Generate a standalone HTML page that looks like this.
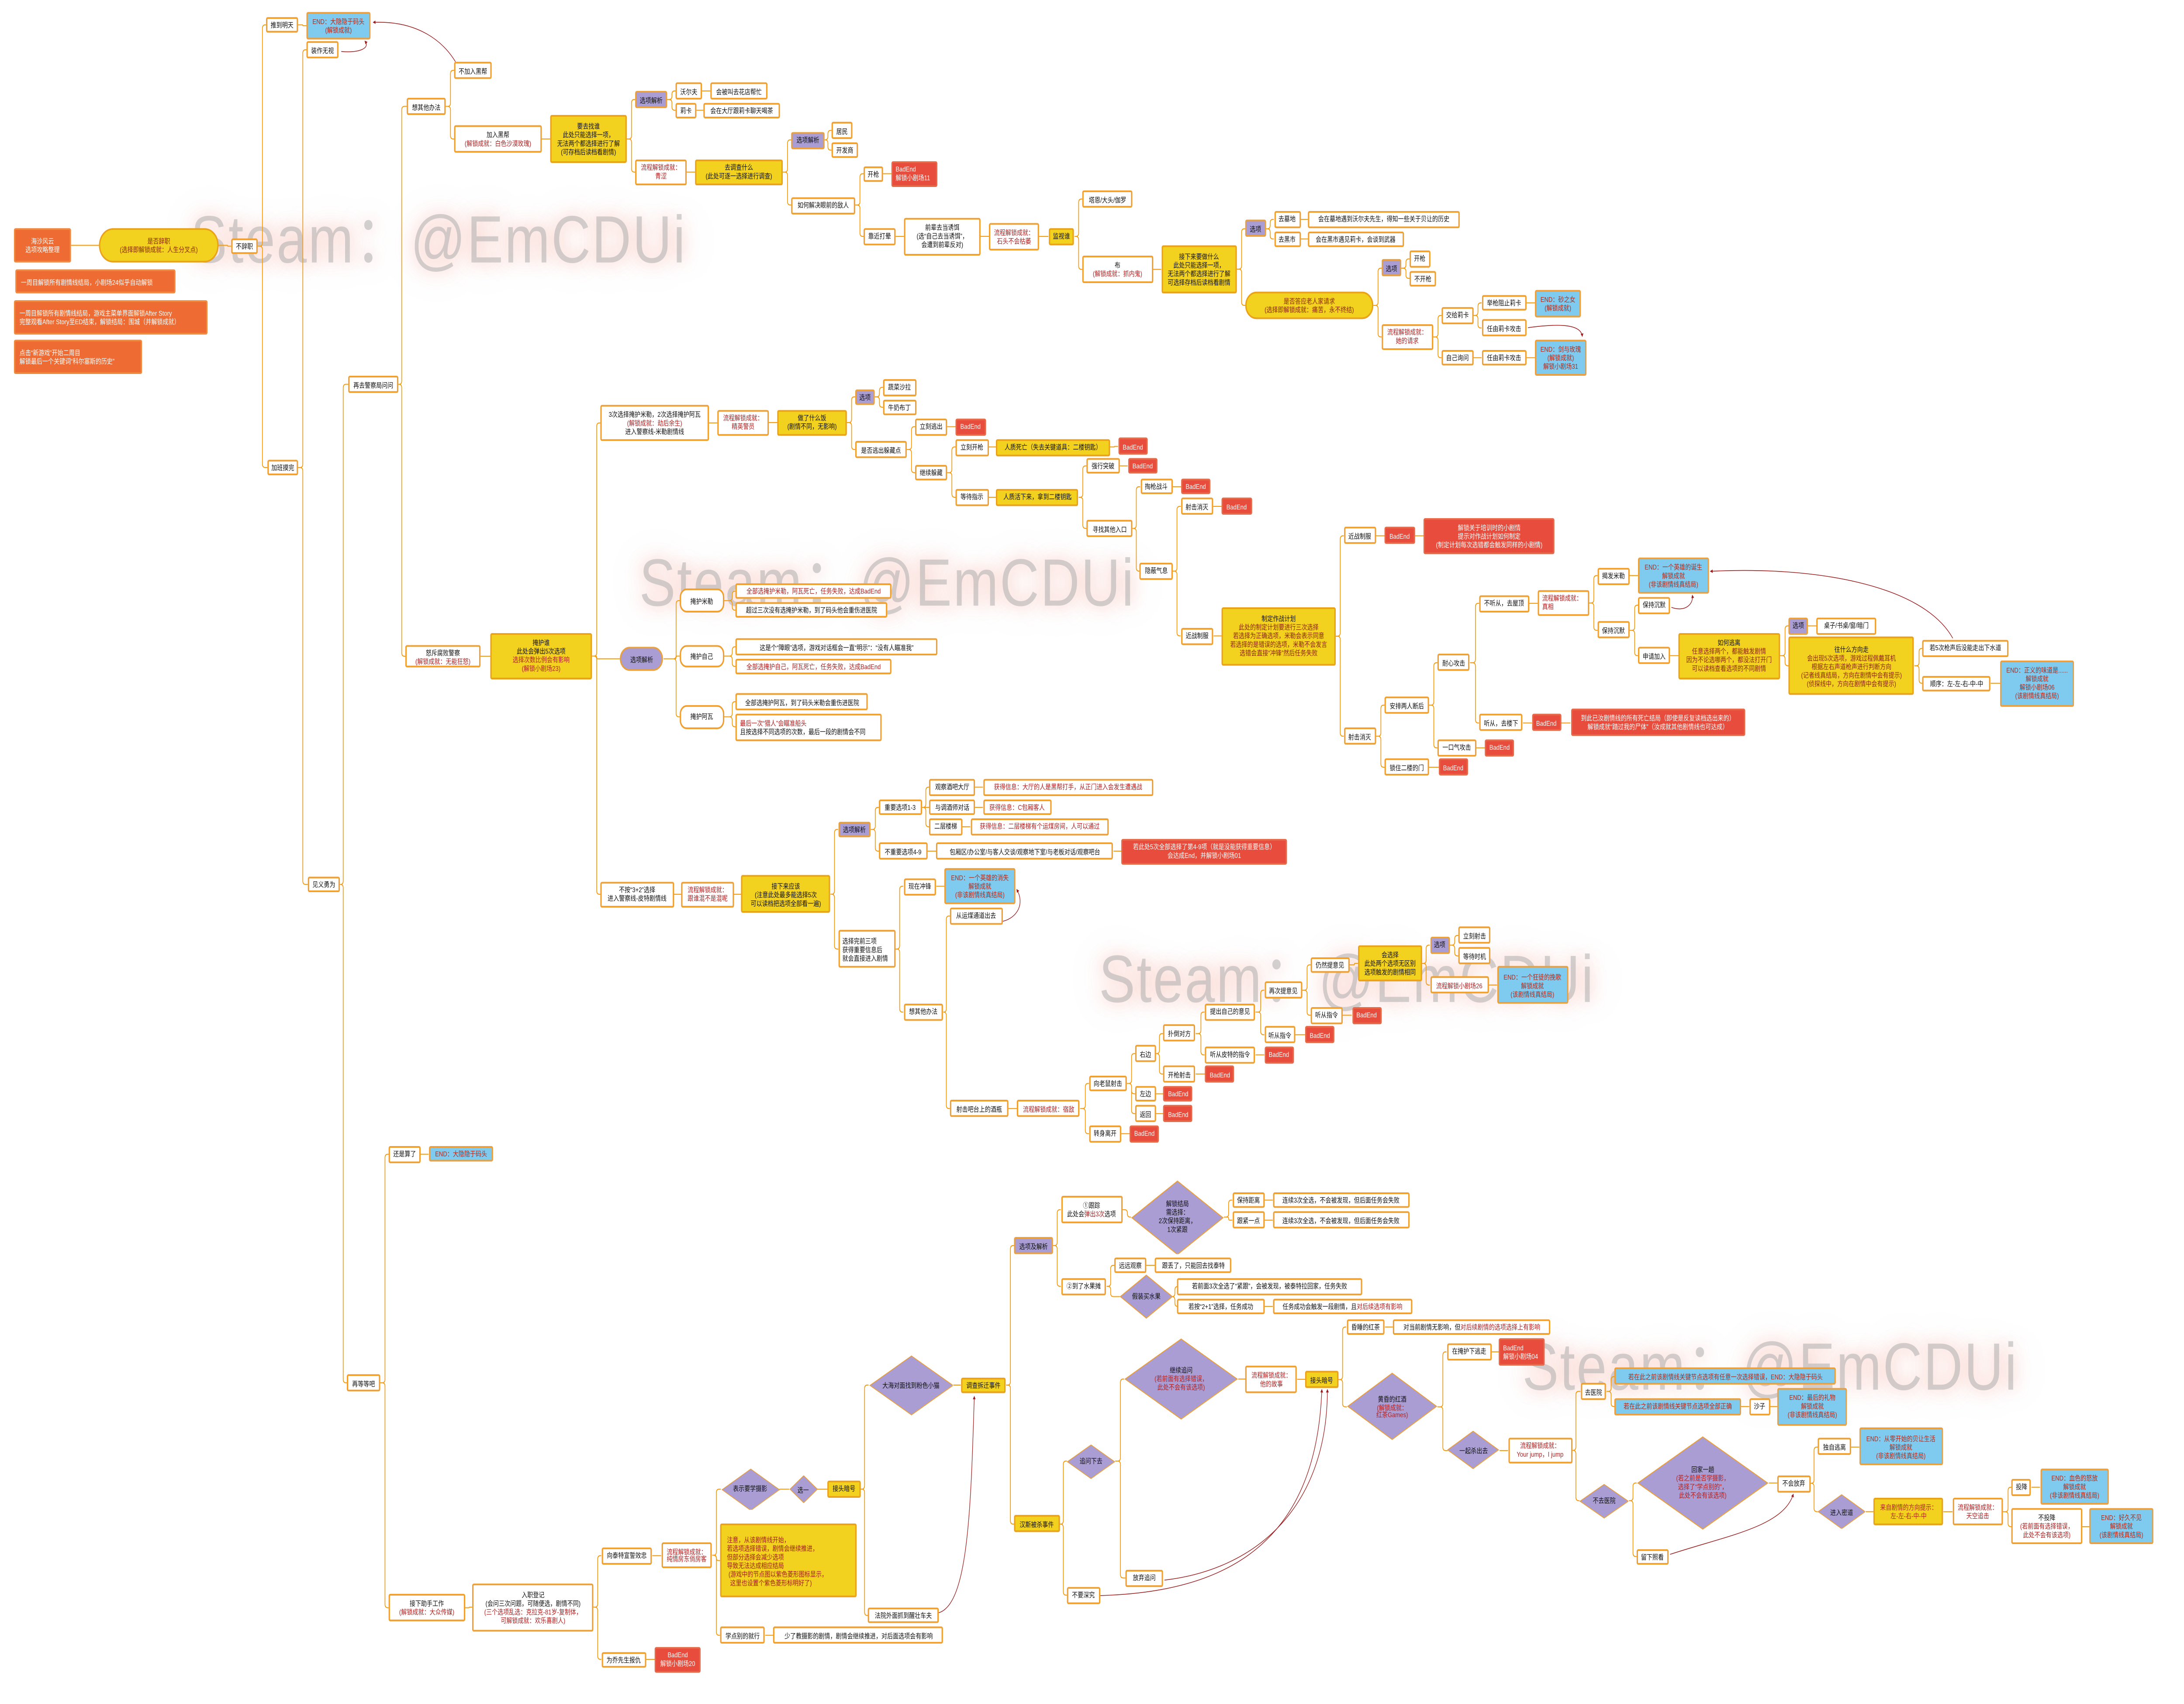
<!DOCTYPE html>
<html><head><meta charset="utf-8">
<style>
html,body{margin:0;padding:0;background:#fff;overflow:hidden;}
body{width:100vw;height:100vh;position:relative;font-family:"Liberation Sans","Noto Sans CJK SC",sans-serif;}
#c{position:absolute;left:0;top:0;width:1568px;height:993.2px;transform:scale(3.92666);transform-origin:0 0;}
#c svg.lines{position:absolute;left:0;top:0;width:1568px;height:993.2px;overflow:visible}
.wm{position:absolute;font-family:"Liberation Sans","Noto Sans CJK SC",sans-serif;font-size:39px;line-height:1;color:rgba(175,175,175,0.55);white-space:nowrap;text-shadow:0 0 10px rgba(240,120,100,0.35),0 0 22px rgba(240,140,120,0.25);letter-spacing:1px}
.n{position:absolute;box-sizing:border-box;display:flex;align-items:center;justify-content:center;text-align:center;font-size:4.1px;line-height:1.22;border:0.55px solid #f0a030;border-radius:1.2px;background:#fff;color:#111;white-space:nowrap;}
.n i{display:block;font-style:normal}
.y{background:#f3d21f;border-color:#e9a21a}
.p{background:#a99dd3;border-color:#e9a040}
.r{background:#e74c3c;border-color:#e66a4a;color:#fff}
.b{background:#7ecbef;border-color:#eba040;color:#b22a1a}
.o{background:#ee6b33;border-color:#f08a40;color:#fff;justify-content:flex-start;text-align:left;padding-left:3px}
.pill{border-radius:10px}
.rd{border-radius:5px}
.L{justify-content:flex-start;text-align:left;padding-left:2px}
.k{color:#b22222}
.d{background:none;border:none}
.d svg{position:absolute;left:0;top:0;width:100%;height:100%}
.d i{position:relative}
</style></head><body>
<div id="c">
<div class="wm" style="left:137px;top:121px">Steam：@EmCDUi</div>
<div class="wm" style="left:459px;top:321px">Steam：@EmCDUi</div>
<div class="wm" style="left:789px;top:552px">Steam：@EmCDUi</div>
<div class="wm" style="left:1093px;top:778px">Steam：@EmCDUi</div>
<svg class="lines" id="ln" viewBox="0 0 1568 993.2"></svg>

<div class="n o" id="a0" style="left:10px;top:133px;width:41px;height:20px;justify-content:center;text-align:center;padding:0"><i>海沙风云<br>选项攻略整理</i></div>
<div class="n y pill" id="a1" style="left:71px;top:133px;width:86px;height:20px;color:#8b2500"><i>是否辞职<br>(选择即解锁成就：人生分叉点)</i></div>
<div class="n" id="a2" style="left:166px;top:139px;width:19px;height:9px"><i>不辞职</i></div>
<div class="n o" style="left:11px;top:157px;width:115px;height:14px"><i>一周目解锁所有剧情线结局，小剧场24似乎自动解锁</i></div>
<div class="n o" style="left:10px;top:175px;width:139px;height:20px"><i>一周目解锁所有剧情线结局，游戏主菜单界面解锁After Story<br>完整观看After Story至ED结束，解锁结局：围城（并解锁成就）</i></div>
<div class="n o" style="left:10px;top:198px;width:92px;height:20px"><i>点击“新游戏”开始二周目<br>解锁最后一个关键词“科尔塞斯的历史”</i></div>
<div class="n" id="b1" style="left:191px;top:10px;width:23px;height:9px"><i>推到明天</i></div>
<div class="n b" id="b2" style="left:220px;top:7px;width:46px;height:16px"><i>END：大隐隐于码头<br>(解锁成就)</i></div>
<div class="n" id="b3" style="left:192px;top:268px;width:22px;height:9px"><i>加班摸完</i></div>
<div class="n" id="c1" style="left:220px;top:24px;width:23px;height:10px"><i>装作无视</i></div>
<div class="n" id="c2" style="left:221px;top:511px;width:23px;height:9px"><i>见义勇为</i></div>
<div class="n" id="d1" style="left:250px;top:219px;width:36px;height:10px"><i>再去警察局问问</i></div>
<div class="n" id="d2" style="left:249px;top:801px;width:24px;height:10px"><i>再等等吧</i></div>
<div class="n" id="e1" style="left:292px;top:57px;width:28px;height:10px"><i>想其他办法</i></div>
<div class="n" id="e2" style="left:291px;top:376px;width:54px;height:13px"><i>怒斥腐败警察<br><span class="k">(解锁成就：无能狂怒)</span></i></div>
<div class="n" id="f1" style="left:326px;top:36px;width:27px;height:10px"><i>不加入黑帮</i></div>
<div class="n" id="f2" style="left:326px;top:73px;width:63px;height:16px"><i>加入黑帮<br><span class="k">(解锁成就：白色沙漠玫瑰)</span></i></div>
<div class="n y" id="g1" style="left:395px;top:67px;width:55px;height:28px"><i>要去找谁<br>此处只能选择一项，<br>无法两个都选择进行了解<br>(可存档后读档看剧情)</i></div>
<div class="n p" id="h1" style="left:456px;top:53px;width:23px;height:10px"><i>选项解析</i></div>
<div class="n k" id="h2" style="left:456px;top:92.6px;width:37px;height:15.4px"><i>流程解锁成就：<br>青涩</i></div>
<div class="n" id="i1" style="left:485px;top:48px;width:19px;height:10px"><i>沃尔夫</i></div>
<div class="n" id="i2" style="left:510px;top:48px;width:41px;height:10px"><i>会被叫去花店帮忙</i></div>
<div class="n" id="i3" style="left:485px;top:59.5px;width:15px;height:9.5px"><i>莉卡</i></div>
<div class="n" id="i4" style="left:505px;top:59.5px;width:55px;height:9.5px"><i>会在大厅跟莉卡聊天喝茶</i></div>
<div class="n y" id="j1" style="left:499px;top:92.6px;width:63px;height:15.4px"><i>去调查什么<br>(此处可逐一选择进行调查)</i></div>
<div class="n p" id="k1" style="left:568px;top:76.5px;width:24px;height:10px"><i>选项解析</i></div>
<div class="n" id="k2" style="left:568px;top:114.5px;width:46px;height:10px"><i>如何解决眼前的敌人</i></div>
<div class="n" id="l1" style="left:597px;top:71px;width:15px;height:10px"><i>居民</i></div>
<div class="n" id="l2" style="left:597px;top:82.6px;width:19px;height:9.8px"><i>开发商</i></div>
<div class="n" id="m1" style="left:620px;top:96.5px;width:14px;height:9.5px"><i>开枪</i></div>
<div class="n r L" id="m2" style="left:640px;top:93.6px;width:33px;height:15.4px"><i>BadEnd<br>解锁小剧场11</i></div>
<div class="n" id="m3" style="left:620px;top:133px;width:23px;height:9.6px"><i>靠近打晕</i></div>
<div class="n" id="m4" style="left:649px;top:127px;width:55px;height:21.5px"><i>前辈去当诱饵<br>(选“自己去当诱饵”，<br>会遭到前辈反对)</i></div>
<div class="n k" id="m5" style="left:710px;top:130px;width:36px;height:15.6px"><i>流程解锁成就：<br>石头不会枯萎</i></div>
<div class="n y" id="m6" style="left:752.7px;top:133px;width:18.8px;height:9.6px"><i>监视谁</i></div>
<div class="n" id="n1" style="left:777px;top:111px;width:36.4px;height:10px"><i>塔恩/大头/伽罗</i></div>
<div class="n" id="n2" style="left:777px;top:149px;width:50.7px;height:16px"><i>布<br><span class="k">(解锁成就：抓内鬼)</span></i></div>
<div class="n y" id="n3" style="left:833.7px;top:143px;width:54.3px;height:27.7px"><i>接下来要做什么<br>此处只能选择一项，<br>无法两个都选择进行了解<br>可选择存档后读档看剧情</i></div>
<div class="n p" id="o1" style="left:894px;top:128.3px;width:14.8px;height:10.1px"><i>选项</i></div>
<div class="n" id="o2" style="left:914.5px;top:123px;width:19px;height:9.7px"><i>去墓地</i></div>
<div class="n" id="o3" style="left:939px;top:123px;width:109px;height:9.7px"><i>会在墓地遇到沃尔夫先生，得知一些关于贝让的历史</i></div>
<div class="n" id="o4" style="left:914.5px;top:134.6px;width:19px;height:9.4px"><i>去黑市</i></div>
<div class="n" id="o5" style="left:939px;top:134.6px;width:68.5px;height:9.4px"><i>会在黑市遇见莉卡，会谈到武器</i></div>
<div class="n y pill" id="o6" style="left:894px;top:170px;width:92px;height:16px;color:#8b2500"><i>是否答应老人家请求<br>(选择即解锁成就：痛苦，永不终结)</i></div>
<div class="n p" id="p1" style="left:992px;top:151.4px;width:14px;height:9.8px"><i>选项</i></div>
<div class="n" id="p2" style="left:1012px;top:146px;width:14.5px;height:9.8px"><i>开枪</i></div>
<div class="n" id="p3" style="left:1012px;top:157.5px;width:19px;height:9.5px"><i>不开枪</i></div>
<div class="n k" id="p4" style="left:992px;top:188.5px;width:36.6px;height:15.8px"><i>流程解锁成就：<br>她的请求</i></div>
<div class="n" id="q1" style="left:1035px;top:179px;width:22.7px;height:9.7px"><i>交给莉卡</i></div>
<div class="n" id="q2" style="left:1035px;top:203.6px;width:22.7px;height:9.8px"><i>自己询问</i></div>
<div class="n" id="q3" style="left:1063.7px;top:171.7px;width:32.3px;height:9.7px"><i>举枪阻止莉卡</i></div>
<div class="n" id="q4" style="left:1063.7px;top:186.3px;width:32.3px;height:9.7px"><i>任由莉卡攻击</i></div>
<div class="n" id="q5" style="left:1063.7px;top:203.6px;width:32.3px;height:9.8px"><i>任由莉卡攻击</i></div>
<div class="n b" id="q6" style="left:1102px;top:168.8px;width:33px;height:15.8px"><i>END：砂之女<br>(解锁成就)</i></div>
<div class="n b" id="q7" style="left:1102px;top:197.7px;width:37px;height:21.7px"><i>END：剑与玫瑰<br>(解锁成就)<br>解锁小剧场31</i></div>

<div class="n y" id="r0" style="left:352px;top:368.6px;width:73px;height:27.6px"><i>掩护谁<br>此处会弹出5次选项<br><span class="k">选择次数比例会有影响</span><br><span class="k">(解锁小剧场23)</span></i></div>
<div class="n" id="r1" style="left:431px;top:236px;width:78px;height:21px"><i>3次选择掩护米勒，2次选择掩护阿瓦<br><span class="k">(解锁成就：劫后余生)</span><br>进入警察线-米勒剧情线</i></div>
<div class="n k" id="r2" style="left:515px;top:238.6px;width:37px;height:15.4px"><i>流程解锁成就：<br>精英警员</i></div>
<div class="n y" id="r3" style="left:558px;top:238.6px;width:50px;height:15.4px"><i>做了什么饭<br>(剧情不同，无影响)</i></div>
<div class="n p" id="s1" style="left:614px;top:226.6px;width:14px;height:9.4px"><i>选项</i></div>
<div class="n" id="s2" style="left:634px;top:221px;width:23.5px;height:9.5px"><i>蔬菜沙拉</i></div>
<div class="n" id="s3" style="left:634px;top:232.7px;width:23.5px;height:9.3px"><i>牛奶布丁</i></div>
<div class="n" id="s4" style="left:614px;top:257px;width:37px;height:10px"><i>是否逃出躲藏点</i></div>
<div class="n" id="t1" style="left:657px;top:243.7px;width:23px;height:10px"><i>立刻逃出</i></div>
<div class="n r" id="t2" style="left:686px;top:243.7px;width:21.5px;height:10px"><i>BadEnd</i></div>
<div class="n" id="t3" style="left:657px;top:270.7px;width:23px;height:9.6px"><i>继续躲藏</i></div>
<div class="n" id="t4" style="left:686px;top:255.5px;width:23.5px;height:10px"><i>立刻开枪</i></div>
<div class="n y" id="t5" style="left:715px;top:255.5px;width:82px;height:10px"><i>人质死亡（失去关键道具：二楼钥匙）</i></div>
<div class="n r" id="t6" style="left:802.7px;top:255.2px;width:21.3px;height:10px"><i>BadEnd</i></div>
<div class="n" id="t7" style="left:686px;top:285px;width:23.5px;height:9.7px"><i>等待指示</i></div>
<div class="n y" id="t8" style="left:715.4px;top:285px;width:59px;height:9.7px"><i>人质活下来，拿到二楼钥匙</i></div>
<div class="n" id="u1" style="left:780px;top:266.7px;width:23.8px;height:9.7px"><i>强行突破</i></div>
<div class="n r" id="u2" style="left:809.7px;top:266.7px;width:21.3px;height:9.7px"><i>BadEnd</i></div>
<div class="n" id="u3" style="left:780.4px;top:303px;width:32.6px;height:10px"><i>寻找其他入口</i></div>
<div class="n" id="u4" style="left:818.6px;top:279px;width:23px;height:9.4px"><i>掏枪战斗</i></div>
<div class="n r" id="u5" style="left:848px;top:279px;width:21px;height:9.4px"><i>BadEnd</i></div>
<div class="n" id="u6" style="left:818.4px;top:328px;width:23.6px;height:9.8px"><i>隐蔽气息</i></div>
<div class="n" id="u7" style="left:847.7px;top:290.3px;width:23.3px;height:9.7px"><i>射击消灭</i></div>
<div class="n r" id="u8" style="left:877px;top:290.3px;width:21.6px;height:9.7px"><i>BadEnd</i></div>
<div class="n" id="u9" style="left:847.6px;top:365.7px;width:23.7px;height:9.9px"><i>近战制服</i></div>
<div class="n y" id="v0" style="left:877px;top:354px;width:82px;height:33.6px;color:#8b2500"><i><span style="color:#111">制定作战计划</span><br>此处的制定计划要进行三次选择<br>若选择为正确选项，米勒会表示同意<br>若选择的是错误的选项，米勒不会发言<br>选错会直接“冲锋”然后任务失败</i></div>
<div class="n" id="v1" style="left:964.8px;top:307.4px;width:22.8px;height:9.8px"><i>近战制服</i></div>
<div class="n r" id="v2" style="left:994px;top:307.4px;width:21.7px;height:9.8px"><i>BadEnd</i></div>
<div class="n r" id="v3" style="left:1022.2px;top:301.6px;width:94px;height:21.4px"><i>解锁关于培训时的小剧情<br>提示对作战计划如何制定<br>(制定计划每次选错都会触发同样的小剧情)</i></div>
<div class="n" id="v4" style="left:964.8px;top:424.2px;width:22.8px;height:9.8px"><i>射击消灭</i></div>
<div class="n" id="v5" style="left:994px;top:406px;width:32px;height:10px"><i>安排两人断后</i></div>
<div class="n" id="v6" style="left:994px;top:442.4px;width:32px;height:9.6px"><i>锁住二楼的门</i></div>
<div class="n r" id="v7" style="left:1033px;top:442.4px;width:20.7px;height:9.6px"><i>BadEnd</i></div>
<div class="n" id="v8" style="left:1032px;top:381.3px;width:23.4px;height:10px"><i>耐心攻击</i></div>
<div class="n" id="v9" style="left:1032px;top:431px;width:27.7px;height:9.8px"><i>一口气攻击</i></div>
<div class="n r" id="v10" style="left:1066.2px;top:431px;width:20.8px;height:9.8px"><i>BadEnd</i></div>
<div class="n" id="w1" style="left:1061.9px;top:346.7px;width:35.8px;height:9.9px"><i>不听从，去屋顶</i></div>
<div class="n" id="w2" style="left:1061.9px;top:416.4px;width:31.5px;height:10px"><i>听从，去楼下</i></div>
<div class="n r" id="w3" style="left:1099.8px;top:416.4px;width:20.8px;height:10px"><i>BadEnd</i></div>
<div class="n r" id="w4" style="left:1127.5px;top:413.4px;width:125.5px;height:15.6px"><i>到此已汝剧情线的所有死亡结局（即使是反复读档选出来的）<br>解锁成就“踏过我的尸体”（汝成就其他剧情线也可达成）</i></div>
<div class="n k L" id="w5" style="left:1104.2px;top:343.5px;width:36.7px;height:15.9px"><i>流程解锁成就：<br>真相</i></div>
<div class="n" id="w6" style="left:1146.9px;top:330.5px;width:22.9px;height:10px"><i>揭发米勒</i></div>
<div class="n" id="w7" style="left:1146.9px;top:362.4px;width:22.9px;height:10px"><i>保持沉默</i></div>
<div class="n b" id="w8" style="left:1176.2px;top:324.7px;width:50.6px;height:21.7px"><i>END：一个英雄的诞生<br>解锁成就<br>(非该剧情线真结局)</i></div>
<div class="n" id="w9" style="left:1176.2px;top:347.7px;width:22.8px;height:10.1px"><i>保持沉默</i></div>
<div class="n" id="w10" style="left:1176.2px;top:377px;width:22.8px;height:10.3px"><i>申请加入</i></div>
<div class="n y" id="x1" style="left:1205px;top:368.5px;width:72.7px;height:27.3px;color:#8b2500"><i><span style="color:#111">如何逃离</span><br>任意选择两个，都能触发剧情<br>因为不论选哪两个，都没法打开门<br>可以读档查看选项的不同剧情</i></div>
<div class="n p" id="x2" style="left:1284.2px;top:359.8px;width:13.8px;height:10px"><i>选项</i></div>
<div class="n" id="x3" style="left:1304.4px;top:359.8px;width:42.3px;height:10px"><i>桌子/书桌/窗/暗门</i></div>
<div class="n y" id="x4" style="left:1284.2px;top:371.4px;width:90.2px;height:33.3px;color:#8b2500"><i><span style="color:#111">往什么方向走</span><br>会出现5次选项，游戏过程佩戴耳机<br>根据左右声道枪声进行判断方向<br>(记者线真结局，方向在剧情中会有提示)<br>(侦探线中，方向在剧情中会有提示)</i></div>
<div class="n" id="x5" style="left:1380.4px;top:373.1px;width:61.3px;height:9.7px"><i>若5次枪声后没能走出下水道</i></div>
<div class="n" id="x6" style="left:1380.4px;top:393.5px;width:48.8px;height:9.5px"><i>顺序：左-左-右-中-中</i></div>
<div class="n b" id="x7" style="left:1436px;top:384.5px;width:53px;height:27.5px"><i>END：正义的味道是......<br>解锁成就<br>解锁小剧场06<br>(该剧情线真结局)</i></div>

<div class="n p pill" id="y0" style="left:445px;top:377px;width:31.4px;height:14px"><i>选项解析</i></div>
<div class="n rd" id="y1" style="left:488px;top:343.4px;width:31.6px;height:13.4px"><i>掩护米勒</i></div>
<div class="n k" id="y2" style="left:528.3px;top:339.7px;width:111.7px;height:9.7px"><i>全部选掩护米勒，阿瓦死亡，任务失败，达成BadEnd</i></div>
<div class="n" id="y3" style="left:528.3px;top:350.8px;width:108.7px;height:9.7px"><i>超过三次没有选掩护米勒，到了码头他会重伤进医院</i></div>
<div class="n rd" id="y4" style="left:488px;top:375.6px;width:31.6px;height:13.6px"><i>掩护自己</i></div>
<div class="n" id="y5" style="left:528.3px;top:372px;width:144.7px;height:10px"><i>这是个“障眼”选项，游戏对话框会一直“明示”：“没有人瞄准我”</i></div>
<div class="n k" id="y6" style="left:528.3px;top:383.6px;width:111.7px;height:9.7px"><i>全部选掩护自己，阿瓦死亡，任务失败，达成BadEnd</i></div>
<div class="n rd" id="y7" style="left:488px;top:411px;width:31.6px;height:13.6px"><i>掩护阿瓦</i></div>
<div class="n" id="y8" style="left:528.3px;top:404px;width:95.2px;height:10px"><i>全部选掩护阿瓦，到了码头米勒会重伤进医院</i></div>
<div class="n L" id="y9" style="left:528.3px;top:415.7px;width:104.3px;height:15.9px"><i><span class="k">最后一次“猎人”会瞄准船头</span><br>且按选择不同选项的次数，最后一段的剧情会不同</i></div>

<div class="n" id="z1" style="left:431px;top:513.5px;width:52.8px;height:15.5px"><i>不按“3+2”选择<br>进入警察线-皮特剧情线</i></div>
<div class="n k" id="z2" style="left:489.4px;top:513.5px;width:37.3px;height:15.5px"><i>流程解锁成就：<br>跟谁混不是混呢</i></div>
<div class="n y" id="z3" style="left:532.2px;top:510.4px;width:64px;height:21.6px"><i>接下来应该<br>(注意此处最多能选择5次<br>可以读档把选项全部看一遍)</i></div>
<div class="n p" id="z4" style="left:601.7px;top:478.6px;width:23.4px;height:9.7px"><i>选项解析</i></div>
<div class="n" id="z5" style="left:631px;top:465.7px;width:30.5px;height:9.8px"><i>重要选项1-3</i></div>
<div class="n" id="z6" style="left:667.3px;top:454px;width:32.7px;height:9.6px"><i>观察酒吧大厅</i></div>
<div class="n k" id="z7" style="left:705.7px;top:454px;width:122.3px;height:9.6px"><i>获得信息：大厅的人是黑帮打手，从正门进入会发生遭遇战</i></div>
<div class="n" id="z8" style="left:667.3px;top:465.7px;width:32.7px;height:9.8px"><i>与调酒师对话</i></div>
<div class="n k" id="z9" style="left:705.7px;top:465.7px;width:49px;height:9.8px"><i>获得信息：C包厢客人</i></div>
<div class="n" id="z10" style="left:667.3px;top:477px;width:23.4px;height:9.8px"><i>二层楼梯</i></div>
<div class="n k" id="z11" style="left:696.6px;top:477px;width:99.7px;height:9.8px"><i>获得信息：二层楼梯有个运煤房间，人可以通过</i></div>
<div class="n" id="z12" style="left:631px;top:491.2px;width:34.7px;height:9.8px"><i>不重要选项4-9</i></div>
<div class="n" id="z13" style="left:672.2px;top:491.2px;width:127.3px;height:9.8px"><i>包厢区/办公室/与客人交谈/观察地下室/与老板对话/观察吧台</i></div>
<div class="n r" id="z14" style="left:805.4px;top:488.5px;width:118.4px;height:15.5px"><i>若此处5次全部选择了第4-9项（就是没能获得重要信息）<br>会达成End，并解锁小剧场01</i></div>
<div class="n L" id="z15" style="left:601.8px;top:542.2px;width:41.1px;height:21.9px"><i>选择完前三项<br>获得重要信息后<br>就会直接进入剧情</i></div>
<div class="n" id="z16" style="left:648.5px;top:511.5px;width:23.7px;height:10.1px"><i>现在冲锋</i></div>
<div class="n b" id="z17" style="left:678px;top:505.5px;width:51px;height:21.8px"><i>END：一个英雄的消失<br>解锁成就<br>(非该剧情线真结局)</i></div>
<div class="n" id="z18" style="left:682px;top:529px;width:37.5px;height:9.8px"><i>从运煤通道出去</i></div>
<div class="n" id="z19" style="left:648.5px;top:585px;width:28.7px;height:9.8px"><i>想其他办法</i></div>
<div class="n" id="z20" style="left:682px;top:641.3px;width:42px;height:9.7px"><i>射击吧台上的酒瓶</i></div>
<div class="n k" id="z21" style="left:730.3px;top:641.3px;width:45.2px;height:9.7px"><i>流程解锁成就：宿敌</i></div>
<div class="n" id="z22" style="left:781.8px;top:626.6px;width:27.2px;height:9.8px"><i>向老鼠射击</i></div>
<div class="n" id="z23" style="left:781.8px;top:656px;width:23.2px;height:9.6px"><i>转身离开</i></div>
<div class="n r" id="z24" style="left:811px;top:656px;width:21.3px;height:9.6px"><i>BadEnd</i></div>
<div class="n" id="z25" style="left:815px;top:609px;width:14.7px;height:10.2px"><i>右边</i></div>
<div class="n" id="z26" style="left:815px;top:632.7px;width:14.7px;height:9.7px"><i>左边</i></div>
<div class="n r" id="z27" style="left:835.3px;top:633px;width:21.2px;height:9.4px"><i>BadEnd</i></div>
<div class="n" id="z28" style="left:815px;top:644.4px;width:14.7px;height:9.4px"><i>返回</i></div>
<div class="n r" id="z29" style="left:835.3px;top:644.4px;width:21.2px;height:9.4px"><i>BadEnd</i></div>
<div class="n" id="z30" style="left:835px;top:597.4px;width:23.4px;height:10.1px"><i>扑倒对方</i></div>
<div class="n" id="z31" style="left:835px;top:621.3px;width:23.4px;height:9.4px"><i>开枪射击</i></div>
<div class="n r" id="z32" style="left:865.2px;top:621.3px;width:21.3px;height:9.4px"><i>BadEnd</i></div>
<div class="n" id="z33" style="left:864.8px;top:585px;width:36.6px;height:9.8px"><i>提出自己的意见</i></div>
<div class="n" id="z34" style="left:864.8px;top:610px;width:36.6px;height:9.7px"><i>听从皮特的指令</i></div>
<div class="n r" id="z35" style="left:907.7px;top:610px;width:21px;height:9.7px"><i>BadEnd</i></div>
<div class="n" id="z36" style="left:907.7px;top:572.3px;width:27.3px;height:9.7px"><i>再次提意见</i></div>
<div class="n" id="z37" style="left:907.7px;top:598.2px;width:22.3px;height:9.8px"><i>听从指令</i></div>
<div class="n r" id="z38" style="left:937px;top:598.2px;width:21.2px;height:9.8px"><i>BadEnd</i></div>
<div class="n" id="z39" style="left:941px;top:557.5px;width:27.6px;height:9.7px"><i>仍然提意见</i></div>
<div class="n" id="z40" style="left:941px;top:586.9px;width:22.8px;height:9.7px"><i>听从指令</i></div>
<div class="n r" id="z41" style="left:970.5px;top:586.9px;width:21.3px;height:9.7px"><i>BadEnd</i></div>
<div class="n y" id="z42" style="left:975px;top:551.4px;width:46px;height:20.3px"><i>会选择<br>此处两个选项无区别<br>选项触发的剧情相同</i></div>
<div class="n p" id="z43" style="left:1026.5px;top:546px;width:14.2px;height:9.8px"><i>选项</i></div>
<div class="n" id="z44" style="left:1047px;top:540.4px;width:23.3px;height:9.7px"><i>立刻射击</i></div>
<div class="n" id="z45" style="left:1047px;top:552.3px;width:23.3px;height:9.7px"><i>等待时机</i></div>
<div class="n k" id="z46" style="left:1026.5px;top:569.3px;width:42.3px;height:9.7px"><i>流程解锁小剧场26</i></div>
<div class="n b" id="z47" style="left:1074.8px;top:563.3px;width:50.8px;height:21.7px"><i>END：一个狂徒的挽歌<br>解锁成就<br>(该剧情线真结局)</i></div>

<div class="n" id="aa1" style="left:279px;top:668px;width:23px;height:9.5px"><i>还是算了</i></div>
<div class="n b" id="aa2" style="left:307.7px;top:667.6px;width:46.7px;height:9.9px"><i>END：大隐隐于码头</i></div>
<div class="n" id="aa3" style="left:279px;top:929.4px;width:54.8px;height:15.4px"><i>接下助手工作<br><span class="k">(解锁成就：大众传媒)</span></i></div>
<div class="n" id="aa4" style="left:339.4px;top:923px;width:86.6px;height:27.5px"><i>入职登记<br>(会问三次问题，可随便选，剧情不同)<br><span class="k">(三个选项乱选：克拉克-81岁-复制体，<br>可解锁成就：欢乐喜剧人)</span></i></div>
<div class="n" id="aa5" style="left:431.7px;top:902px;width:36.6px;height:9.5px"><i>向泰特宣誓效忠</i></div>
<div class="n k" id="aa6" style="left:474.7px;top:898.7px;width:36.6px;height:15.6px"><i>流程解锁成就：<br>纯情房东俏房客</i></div>
<div class="n" id="aa7" style="left:431.7px;top:962.6px;width:32.1px;height:9.2px"><i>为乔先生报仇</i></div>
<div class="n r" id="aa8" style="left:470.2px;top:959.7px;width:32.8px;height:15.3px"><i>BadEnd<br>解锁小剧场20</i></div>
<div class="n d" id="bb1" style="left:517.5px;top:855.7px;width:42px;height:24.6px"><svg viewBox="0 0 100 100" preserveAspectRatio="none"><polygon points="50,1 99,50 50,99 1,50" fill="#a99dd3" stroke="#eba040" stroke-width="1.5"/></svg><i>表示要学摄影</i></div>
<div class="n d" id="bb2" style="left:566.6px;top:860px;width:20px;height:16px"><svg viewBox="0 0 100 100" preserveAspectRatio="none"><polygon points="50,1 99,50 50,99 1,50" fill="#a99dd3" stroke="#eba040" stroke-width="3"/></svg><i>选一</i></div>
<div class="n y" id="bb3" style="left:594.2px;top:862.8px;width:23.5px;height:10.3px"><i>接头暗号</i></div>
<div class="n y L" id="bb4" style="left:516.9px;top:888px;width:98.2px;height:43.2px;color:#a02010;padding-left:4px"><i>注意，从该剧情线开始，<br>若选项选择错误，剧情会继续推进，<br>但部分选择会减少选项<br>导致无法达成相应结局<br>&nbsp;(游戏中的节点图以紫色菱形图标显示，<br>&nbsp;&nbsp;这里也设置个紫色菱形标明好了)</i></div>
<div class="n" id="bb5" style="left:516.9px;top:948.3px;width:32.5px;height:9.7px"><i>学点别的就行</i></div>
<div class="n" id="bb6" style="left:555.4px;top:948.3px;width:122.1px;height:9.7px"><i>少了教摄影的剧情，剧情会继续推进，对后面选项会有影响</i></div>
<div class="n" id="bb7" style="left:623.3px;top:936.7px;width:50.5px;height:9.8px"><i>法院外面抓到醒壮车夫</i></div>
<div class="n d" id="bb8" style="left:623.6px;top:789.8px;width:60.8px;height:35px"><svg viewBox="0 0 100 100" preserveAspectRatio="none"><polygon points="50,1 99,50 50,99 1,50" fill="#a99dd3" stroke="#eba040" stroke-width="1.2"/></svg><i>大海对面找到粉色小猫</i></div>
<div class="n y" id="bb9" style="left:689.8px;top:802.5px;width:32.5px;height:9.6px"><i>调查拆迁事件</i></div>
<div class="n p" id="cc1" style="left:728px;top:721px;width:28px;height:10px"><i>选项及解析</i></div>
<div class="n y" id="cc2" style="left:728px;top:883.4px;width:32.5px;height:9.9px"><i>汉斯被杀事件</i></div>
<div class="n" id="cc3" style="left:761.6px;top:697.2px;width:44.1px;height:15.8px"><i>①跟踪<br>此处会<span class="k">弹出3次</span>选项</i></div>
<div class="n" id="cc4" style="left:761.6px;top:744.8px;width:32.9px;height:9.9px"><i>②到了水果摊</i></div>
<div class="n d" id="cc5" style="left:812px;top:687.6px;width:66.7px;height:43.6px"><svg viewBox="0 0 100 100" preserveAspectRatio="none"><polygon points="50,1 99,50 50,99 1,50" fill="#a99dd3" stroke="#eba040" stroke-width="1.2"/></svg><i>解锁结局<br>需选择：<br>2次保持距离，<br>1次紧跟</i></div>
<div class="n" id="cc6" style="left:884.7px;top:694.6px;width:23.3px;height:9.8px"><i>保持距离</i></div>
<div class="n" id="cc7" style="left:913.8px;top:694.6px;width:97.9px;height:9.8px"><i>连续3次全选，不会被发现，但后面任务会失败</i></div>
<div class="n" id="cc8" style="left:884.7px;top:706.3px;width:23.3px;height:9.8px"><i>跟紧一点</i></div>
<div class="n" id="cc9" style="left:913.8px;top:706.3px;width:97.9px;height:9.8px"><i>连续3次全选，不会被发现，但后面任务会失败</i></div>
<div class="n" id="cc10" style="left:800px;top:732.6px;width:23px;height:9.8px"><i>远远观察</i></div>
<div class="n" id="cc11" style="left:829.3px;top:732.6px;width:55px;height:9.8px"><i>跟丢了，只能回去找泰特</i></div>
<div class="n d" id="cc12" style="left:804px;top:743px;width:38px;height:25.5px"><svg viewBox="0 0 100 100" preserveAspectRatio="none"><polygon points="50,1 99,50 50,99 1,50" fill="#a99dd3" stroke="#eba040" stroke-width="2"/></svg><i>假装买水果</i></div>
<div class="n" id="cc13" style="left:845px;top:744.9px;width:133px;height:10px"><i>若前面3次全选了“紧跟”，会被发现，被泰特拉回家，任务失败</i></div>
<div class="n" id="cc14" style="left:845px;top:756.6px;width:63px;height:9.7px"><i>若按“2+1”选择，任务成功</i></div>
<div class="n" id="cc15" style="left:913.8px;top:756.6px;width:100px;height:9.7px"><i>任务成功会触发一段剧情，且<span class="k">对后续选项有影响</span></i></div>
<div class="n d" id="dd1" style="left:766px;top:841.6px;width:34.6px;height:20px"><svg viewBox="0 0 100 100" preserveAspectRatio="none"><polygon points="50,1 99,50 50,99 1,50" fill="#a99dd3" stroke="#eba040" stroke-width="2"/></svg><i>追问下去</i></div>
<div class="n" id="dd2" style="left:766px;top:925px;width:23.6px;height:9.5px"><i>不要深究</i></div>
<div class="n d" id="dd3" style="left:807px;top:780px;width:82px;height:47.6px"><svg viewBox="0 0 100 100" preserveAspectRatio="none"><polygon points="50,1 99,50 50,99 1,50" fill="#a99dd3" stroke="#eba040" stroke-width="1"/></svg><i>继续追问<br><span class="k">(若前面有选择错误，<br>此处不会有该选项)</span></i></div>
<div class="n" id="dd4" style="left:808px;top:915px;width:27px;height:9.5px"><i>放弃追问</i></div>
<div class="n k" id="dd5" style="left:894.3px;top:796px;width:37px;height:15.9px"><i>流程解锁成就：<br>他的故事</i></div>
<div class="n y" id="dd6" style="left:937.2px;top:799.2px;width:23.4px;height:9.8px"><i>接头暗号</i></div>
<div class="n" id="dd7" style="left:966.5px;top:768.7px;width:27.8px;height:9.6px"><i>昏睡的红茶</i></div>
<div class="n" id="dd8" style="left:1000px;top:768.7px;width:113.4px;height:9.6px"><i>对当前剧情无影响，但<span class="k">对后续剧情的选项选择上有影响</span></i></div>
<div class="n d" id="dd9" style="left:967px;top:800.3px;width:65px;height:39.4px"><svg viewBox="0 0 100 100" preserveAspectRatio="none"><polygon points="50,1 99,50 50,99 1,50" fill="#a99dd3" stroke="#eba040" stroke-width="1.2"/></svg><i>黄昏的红酒<br><span class="k">(解锁成就：<br>红茶Games)</span></i></div>
<div class="n" id="dd10" style="left:1038.5px;top:783px;width:32.5px;height:9.9px"><i>在掩护下逃走</i></div>
<div class="n r L" id="dd11" style="left:1076.2px;top:780.1px;width:33.3px;height:15.7px"><i>BadEnd<br>解锁小剧场04</i></div>
<div class="n d" id="dd12" style="left:1039.4px;top:834.4px;width:37.2px;height:22.2px"><svg viewBox="0 0 100 100" preserveAspectRatio="none"><polygon points="50,1 99,50 50,99 1,50" fill="#a99dd3" stroke="#eba040" stroke-width="2"/></svg><i>一起杀出去</i></div>
<div class="n k" id="dd13" style="left:1082.7px;top:837.5px;width:46px;height:15.7px"><i>流程解锁成就：<br>Your jump，I jump</i></div>
<div class="n" id="ee1" style="left:1134.7px;top:806px;width:18.7px;height:10px"><i>去医院</i></div>
<div class="n b" id="ee2" style="left:1159.3px;top:797.3px;width:159px;height:10.2px"><i>若在此之前该剧情线关键节点选项有任意一次选择错误，END：大隐隐于码头</i></div>
<div class="n b" id="ee3" style="left:1159.3px;top:814.8px;width:90.5px;height:10.1px"><i>若在此之前该剧情线关键节点选项全部正确</i></div>
<div class="n" id="ee4" style="left:1255.9px;top:814.8px;width:14.7px;height:10.1px"><i>沙子</i></div>
<div class="n b" id="ee5" style="left:1276px;top:808.8px;width:50.4px;height:21.9px"><i>END：最后的礼物<br>解锁成就<br>(非该剧情线真结局)</i></div>
<div class="n d" id="ee6" style="left:1134px;top:864.7px;width:35.4px;height:20px"><svg viewBox="0 0 100 100" preserveAspectRatio="none"><polygon points="50,1 99,50 50,99 1,50" fill="#a99dd3" stroke="#eba040" stroke-width="2"/></svg><i>不去医院</i></div>
<div class="n d" id="ee7" style="left:1175px;top:837px;width:95px;height:54.8px"><svg viewBox="0 0 100 100" preserveAspectRatio="none"><polygon points="50,1 99,50 50,99 1,50" fill="#a99dd3" stroke="#eba040" stroke-width="0.9"/></svg><i>回家一趟<br><span class="k">(若之前是否学摄影，<br>选择了“学点别的”，<br>此处不会有该选项)</span></i></div>
<div class="n" id="ee8" style="left:1175px;top:902.5px;width:22.6px;height:9.5px"><i>留下照看</i></div>
<div class="n" id="ee9" style="left:1276px;top:859.5px;width:23.6px;height:10.1px"><i>不会放弃</i></div>
<div class="n" id="ee10" style="left:1305.3px;top:838.4px;width:23.5px;height:10.1px"><i>独自逃离</i></div>
<div class="n b" id="ee11" style="left:1334.9px;top:832.4px;width:59.7px;height:21.7px"><i>END：从零开始的贝让生活<br>解锁成就<br>(非该剧情线真结局)</i></div>
<div class="n d" id="ee12" style="left:1305px;top:871px;width:34.4px;height:20.2px"><svg viewBox="0 0 100 100" preserveAspectRatio="none"><polygon points="50,1 99,50 50,99 1,50" fill="#a99dd3" stroke="#eba040" stroke-width="2"/></svg><i>进入密道</i></div>
<div class="n y k" id="ee13" style="left:1345.4px;top:873.3px;width:49.8px;height:15.7px"><i>来自剧情的方向提示：<br>左-左-右-中-中</i></div>
<div class="n k" id="ee14" style="left:1401.8px;top:873.3px;width:36.2px;height:15.7px"><i>流程解锁成就：<br>天空追击</i></div>
<div class="n" id="ee15" style="left:1444.3px;top:862px;width:14.2px;height:9.7px"><i>投降</i></div>
<div class="n b" id="ee16" style="left:1464.6px;top:855.8px;width:49.7px;height:21.6px"><i>END：血色的怒放<br>解锁成就<br>(非该剧情线真结局)</i></div>
<div class="n" id="ee17" style="left:1444.3px;top:879.3px;width:50.4px;height:21.1px"><i>不投降<br><span class="k">(若前面有选择错误，<br>此处不会有该选项)</span></i></div>
<div class="n b" id="ee18" style="left:1500.1px;top:879.3px;width:45.9px;height:21.2px"><i>END：好久不见<br>解锁成就<br>(该剧情线真结局)</i></div>
</div>
<script>
(function(){
var c=document.getElementById("c");
function fit(){
 var vw=window.innerWidth||document.documentElement.clientWidth||6157;
 var vh=window.innerHeight||document.documentElement.clientHeight||3900;
 c.style.transform="scale("+(vw/1568)+","+(vh/993.2)+")";
}
fit();
window.addEventListener("resize",fit);
var E="a0>a1 a1>a2 a2>b1 a2>b3 b1>b2 b3>c1 b3>c2 c2>d1 c2>d2 d1>e1 d1>e2 e1>f1 e1>f2 f2>g1 g1>h1 g1>h2 h1>i1 h1>i3 i1>i2 i3>i4 h2>j1 j1>k1 j1>k2 k1>l1 k1>l2 k2>m1 k2>m3 m1>m2 m3>m4 m4>m5 m5>m6 m6>n1 m6>n2 n2>n3 n3>o1 n3>o6 o1>o2 o1>o4 o2>o3 o4>o5 o6>p1 o6>p4 p1>p2 p1>p3 p4>q1 p4>q2 q1>q3 q1>q4 q3>q6 q2>q5 q5>q7 "+
"e2>r0 r0>r1 r0>y0 r0>z1 r1>r2 r2>r3 r3>s1 r3>s4 s1>s2 s1>s3 s4>t1 s4>t3 t1>t2 t3>t4 t3>t7 t4>t5 t5>t6 t7>t8 t8>u1 t8>u3 u1>u2 u3>u4 u3>u6 u4>u5 u6>u7 u6>u9 u7>u8 u9>v0 v0>v1 v0>v4 v1>v2 v2>v3 v4>v5 v4>v6 v6>v7 v5>v8 v5>v9 v9>v10 v8>w1 v8>w2 w2>w3 w3>w4 w1>w5 w5>w6 w5>w7 w6>w8 w7>w9 w7>w10 w10>x1 x1>x2 x1>x4 x2>x3 x4>x5 x4>x6 x6>x7 "+
"y0>y1 y0>y4 y0>y7 y1>y2 y1>y3 y4>y5 y4>y6 y7>y8 y7>y9 "+
"z1>z2 z2>z3 z3>z4 z3>z15 z4>z5 z4>z12 z5>z6 z5>z8 z5>z10 z6>z7 z8>z9 z10>z11 z12>z13 z13>z14 z15>z16 z15>z19 z16>z17 z19>z18 z19>z20 z20>z21 z21>z22 z21>z23 z23>z24 z22>z25 z22>z26 z22>z28 z26>z27 z28>z29 z25>z30 z25>z31 z31>z32 z30>z33 z30>z34 z34>z35 z33>z36 z33>z37 z37>z38 z36>z39 z36>z40 z40>z41 z39>z42 z42>z43 z42>z46 z43>z44 z43>z45 z46>z47 "+
"d2>aa1 d2>aa3 aa1>aa2 aa3>aa4 aa4>aa5 aa4>aa7 aa7>aa8 aa5>aa6 aa6>bb1 aa6>bb4 aa6>bb5 bb5>bb6 bb1>bb2 bb2>bb3 bb3>bb8 bb3>bb7 bb8>bb9 bb9>cc1 bb9>cc2 cc1>cc3 cc1>cc4 cc3>cc5 cc5>cc6 cc5>cc8 cc6>cc7 cc8>cc9 cc4>cc10 cc4>cc12 cc10>cc11 cc12>cc13 cc12>cc14 cc14>cc15 cc2>dd1 cc2>dd2 dd1>dd3 dd1>dd4 dd3>dd5 dd5>dd6 dd6>dd7 dd6>dd9 dd7>dd8 dd9>dd10 dd9>dd12 dd10>dd11 dd12>dd13 dd13>ee1 dd13>ee6 ee1>ee2 ee1>ee3 ee3>ee4 ee4>ee5 ee6>ee7 ee6>ee8 ee7>ee9 ee9>ee10 ee9>ee12 ee10>ee11 ee12>ee13 ee13>ee14 ee14>ee15 ee14>ee17 ee15>ee16 ee17>ee18";
function g(id){var e=document.getElementById(id);var s=e.style;return {x:parseFloat(s.left),y:parseFloat(s.top),w:parseFloat(s.width),h:parseFloat(s.height)};}
var groups={},order=[];
E.split(" ").forEach(function(p){var a=p.split(">");if(!groups[a[0]]){groups[a[0]]=[];order.push(a[0]);}groups[a[0]].push(a[1]);});
var d="";
order.forEach(function(pid){
 var P=g(pid),px=P.x+P.w,py=P.y+P.h/2,kids=groups[pid].map(g);
 var minL=Math.min.apply(null,kids.map(function(k){return k.x;}));
 var bx=minL-2.6; if(bx<px+1.2)bx=(px+minL)/2;
 kids.forEach(function(k){
  var cy=k.y+k.h/2,cx=k.x,r=Math.min(2,Math.abs(cy-py)/2,(bx-px)>0?2:0);
  if(Math.abs(cy-py)<0.3){d+="M"+px+" "+py+"H"+cx;return;}
  var s=cy>py?1:-1;
  d+="M"+px+" "+py+"H"+(bx-r)+"Q"+bx+" "+py+" "+bx+" "+(py+s*r)+"V"+(cy-s*r)+"Q"+bx+" "+cy+" "+(bx+r)+" "+cy+"H"+cx;
 });
});
var svg=document.getElementById("ln");
var curves=[
 "M327 36 C318 24 300 12 268 13",
 "M245 30 C258 31 266 28 262 24",
 "M1097 191 C1115 189 1135 188 1136 196",
 "M1200 354 C1210 357 1216 352 1215 347",
 "M1402 372 C1380 340 1300 330 1228 333",
 "M720 537 C730 535 736 527 730 518.5",
 "M674 940 C695 935 697 880 699.5 814",
 "M790 930 C880 928 945 900 949 810",
 "M836 921 C900 915 953 880 953 810",
 "M1199 906 C1240 895 1280 890 1287.5 871"
];
var html='<defs><marker id="ar" viewBox="0 0 10 10" refX="8" refY="5" markerWidth="5" markerHeight="5" orient="auto"><path d="M0 0L10 5L0 10z" fill="#9b1c1c"/></marker></defs>';
html+='<path d="'+d+'" fill="none" stroke="#f39c12" stroke-width="0.55"/>';
curves.forEach(function(cc){html+='<path d="'+cc+'" fill="none" stroke="#9b1c1c" stroke-width="0.4" marker-end="url(#ar)"/>';});
svg.innerHTML=html;
})();
</script>
</body></html>
